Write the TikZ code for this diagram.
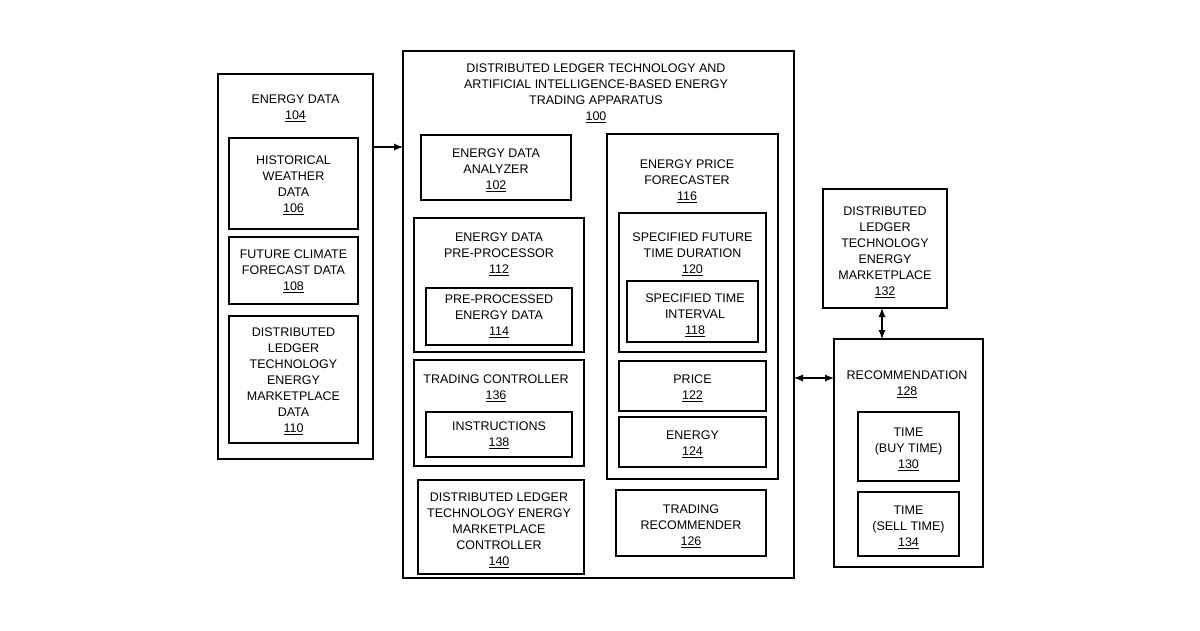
\documentclass[tikz,border=0pt]{standalone}
\usepackage{fontspec}
\setmainfont{Liberation Sans}
\usetikzlibrary{arrows.meta}
\begin{document}
\begin{tikzpicture}[x=1pt,y=-1pt,
  bx/.style={draw,line width=1.1pt},
  lb/.style={align=center,font=\fontsize{12.5}{16}\selectfont,inner sep=0pt},
  ar/.style={line width=1.1pt,-{Latex[length=9pt,width=7pt]}},
  dar/.style={line width=1.1pt,{Latex[length=9pt,width=7pt]}-{Latex[length=9pt,width=7pt]}}]
\useasboundingbox (0,0) rectangle (1200,630);
\newcommand{\ul}[1]{\underline{#1}}
% boxes
\draw[bx] (218,74) rectangle (373,459);
\draw[bx] (229,138) rectangle (358,229);
\draw[bx] (229,237) rectangle (358,304);
\draw[bx] (229,316) rectangle (358,443);
\draw[bx] (403,51) rectangle (794,578);
\draw[bx] (421,135) rectangle (571,200);
\draw[bx] (414,218) rectangle (584,352);
\draw[bx] (426,288) rectangle (572,345);
\draw[bx] (414,360) rectangle (584,466);
\draw[bx] (426,412) rectangle (572,457);
\draw[bx] (418,480) rectangle (584,574);
\draw[bx] (607,134) rectangle (778,479);
\draw[bx] (619,213) rectangle (766,352);
\draw[bx] (627,281) rectangle (758,342);
\draw[bx] (619,361) rectangle (766,411);
\draw[bx] (619,417) rectangle (766,467);
\draw[bx] (616,490) rectangle (766,556);
\draw[bx] (823,189) rectangle (947,308);
\draw[bx] (834,339) rectangle (983,567);
\draw[bx] (858,412) rectangle (959,481);
\draw[bx] (858,492) rectangle (959,556);
% labels
\node[lb] (t104) at (295.5,108) {ENERGY DATA\\\ul{104}};
\node[lb] (t106) at (293.5,185) {HISTORICAL\\WEATHER\\DATA\\\ul{106}};
\node[lb] (t108) at (293.5,271) {FUTURE CLIMATE\\FORECAST DATA\\\ul{108}};
\node[lb] (t110) at (293.5,381) {DISTRIBUTED\\LEDGER\\TECHNOLOGY\\ENERGY\\MARKETPLACE\\DATA\\\ul{110}};
\node[lb] (t100) at (596,93) {DISTRIBUTED LEDGER TECHNOLOGY AND\\ARTIFICIAL INTELLIGENCE-BASED ENERGY\\TRADING APPARATUS\\\ul{100}};
\node[lb] (t102) at (496,170) {ENERGY DATA\\ANALYZER\\\ul{102}};
\node[lb] (t112) at (499,254) {ENERGY DATA\\PRE-PROCESSOR\\\ul{112}};
\node[lb] (t114) at (499,316) {PRE-PROCESSED\\ENERGY DATA\\\ul{114}};
\node[lb] (t136) at (496,388) {TRADING CONTROLLER\\\ul{136}};
\node[lb] (t138) at (499,435) {INSTRUCTIONS\\\ul{138}};
\node[lb] (t140) at (499,530) {DISTRIBUTED LEDGER\\TECHNOLOGY ENERGY\\MARKETPLACE\\CONTROLLER\\\ul{140}};
\node[lb] (t116) at (687,181) {ENERGY PRICE\\FORECASTER\\\ul{116}};
\node[lb] (t120) at (692.5,254) {SPECIFIED FUTURE\\TIME DURATION\\\ul{120}};
\node[lb] (t118) at (695,315) {SPECIFIED TIME\\INTERVAL\\\ul{118}};
\node[lb] (t122) at (692.5,388) {PRICE\\\ul{122}};
\node[lb] (t124) at (692.5,444) {ENERGY\\\ul{124}};
\node[lb] (t126) at (691,526) {TRADING\\RECOMMENDER\\\ul{126}};
\node[lb] (t132) at (885,252) {DISTRIBUTED\\LEDGER\\TECHNOLOGY\\ENERGY\\MARKETPLACE\\\ul{132}};
\node[lb] (t128) at (907,384) {RECOMMENDATION\\\ul{128}};
\node[lb] (t130) at (908.5,449) {TIME\\(BUY TIME)\\\ul{130}};
\node[lb] (t134) at (908.5,527) {TIME\\(SELL TIME)\\\ul{134}};
% connectors
\coordinate (a1) at (373,147); \coordinate (a2) at (403,147);
\draw[ar] (a1) -- (a2);
\coordinate (b1) at (794,378); \coordinate (b2) at (834,378);
\draw[dar] (b1) -- (b2);
\coordinate (c1) at (882,308); \coordinate (c2) at (882,339);
\draw[dar] (c1) -- (c2);
\end{tikzpicture}
\end{document}
